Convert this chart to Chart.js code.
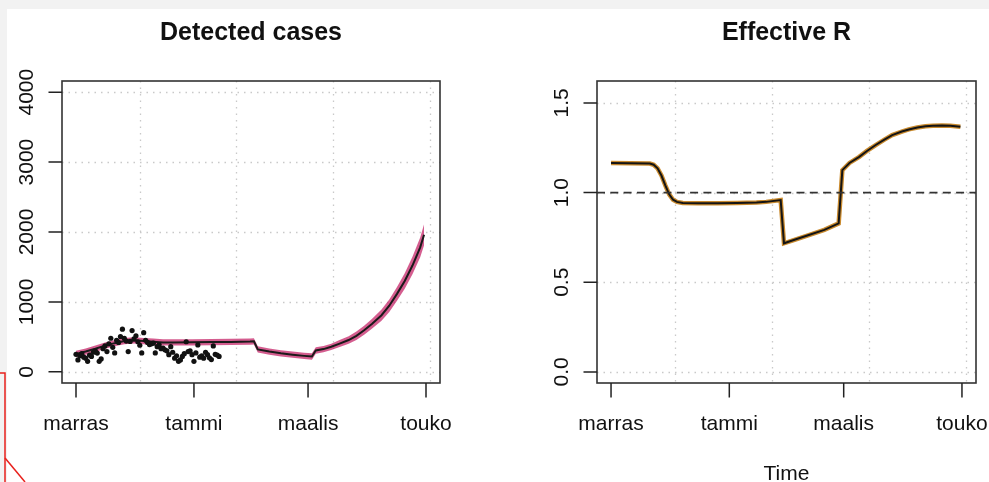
<!DOCTYPE html>
<html>
<head>
<meta charset="utf-8">
<script src="https://cdn.jsdelivr.net/npm/chart.js@4"></script>
<style>
  html, body { margin: 0; padding: 0; }
  body { width: 989px; height: 482px; background: #f2f2f2; position: relative; overflow: hidden; }
  #sheet { position: absolute; left: 7px; top: 9px; width: 982px; height: 473px; background: #fff; }
  canvas { position: absolute; top: 0; }
  #casesChart { left: 0; }
  #rChart { left: 494px; }
  #mark { position: absolute; left: 0; top: 0; }
</style>
</head>
<body>
<div id="sheet"></div>
<canvas id="casesChart" width="494" height="482"></canvas>
<canvas id="rChart" width="495" height="482"></canvas>
<svg id="mark" width="989" height="482">
  <polyline points="0,373 5,373 5,482" fill="none" stroke="#e8201c" stroke-width="1.5"/>
  <line x1="5" y1="458" x2="25" y2="482" stroke="#e8201c" stroke-width="1.5"/>
</svg>
<script>
// -------- DATA --------
// x values are days counted from 1 Nov (marras)
const monthDays = [0, 61, 120, 181];
const monthLabels = ["marras", "tammi", "maalis", "touko"];
const gridDays = [33, 83, 133, 183];

const caseTicks = [0, 1000, 2000, 3000, 4000];
const rTicks = [0, 0.5, 1.0, 1.5];
const rTickLabels = ["0.0", "0.5", "1.0", "1.5"];

// observed daily cases, one per day from day 0
const obsCases = [250, 170, 230, 260, 210, 195, 150, 240, 220, 280,
                  300, 268, 150, 185, 330, 370, 290, 400, 480, 350,
                  270, 450, 420, 505, 610, 480, 440, 290, 435, 590,
                  470, 515, 430, 380, 270, 560, 450, 420, 390, 400,
                  410, 270, 360, 385, 330, 340, 315, 300, 245, 360,
                  280, 195, 230, 150, 170, 220, 260, 430, 290, 300,
                  245, 150, 270, 385, 210, 230, 195, 280, 245, 200,
                  175, 370, 250, 240, 220];

// model fit: median and band
const modelDays = [0, 5, 10, 15, 20, 25, 30, 35, 40, 45, 50, 60, 70, 80, 90, 92, 94, 100, 106, 112,
                   118, 122, 124, 128, 132, 136, 141, 145, 149, 153, 158, 162, 166, 170, 174, 178, 180];
const caseMedian = [255, 290, 330, 375, 410, 440, 450, 440, 430, 420, 420, 422, 425, 428, 432, 435, 320, 290, 265, 245,
                    228, 219, 305, 325, 358, 400, 455, 515, 595, 685, 810, 945, 1115, 1300, 1520, 1780, 1960];
const caseLow = [210, 245, 285, 330, 365, 395, 405, 395, 385, 375, 375, 377, 380, 383, 387, 390, 275, 245, 220, 200,
                 183, 174, 260, 280, 313, 350, 400, 455, 530, 615, 730, 855, 1015, 1190, 1395, 1640, 1810];
const caseHigh = [300, 335, 375, 420, 455, 485, 495, 485, 475, 465, 465, 467, 470, 473, 477, 480, 365, 335, 310, 290,
                  273, 264, 350, 370, 403, 450, 510, 575, 660, 755, 890, 1035, 1215, 1410, 1645, 1920, 2110];

// effective R
const rDays = [0, 10, 20, 22, 24, 26, 28, 30, 32, 34, 37, 45, 55, 65, 75, 80, 87.5, 89.2, 95, 102,
               110, 117.4, 119.3, 123, 128, 132, 136.5, 141, 145, 150, 153.6, 158, 162.2, 166, 170.7, 175, 180.2];
const rValues = [1.165, 1.164, 1.162, 1.155, 1.135, 1.095, 1.040, 0.990, 0.960, 0.948, 0.942, 0.941, 0.941, 0.942, 0.945, 0.948, 0.958, 0.717, 0.738, 0.763,
                 0.792, 0.828, 1.125, 1.165, 1.199, 1.232, 1.265, 1.295, 1.320, 1.340, 1.352, 1.363, 1.370, 1.373, 1.374, 1.372, 1.367];

const FONT = '"Liberation Sans", Arial, sans-serif';

const pts = (xs, ys) => xs.map((x, i) => ({ x: x, y: ys[i] }));

// -------- R-like axes plugin --------
const rBase = {
    id: "rBase",
    beforeDatasetsDraw(chart, args, opts) {
        const { ctx, chartArea: a, scales: { x, y } } = chart;
        ctx.save();
        ctx.strokeStyle = "#c9c9c9";
        ctx.lineWidth = 1.3;
        ctx.setLineDash([1.5, 5]);
        ctx.beginPath();
        gridDays.forEach(d => {
            const px = Math.round(x.getPixelForValue(d)) + 0.5;
            ctx.moveTo(px, a.top);
            ctx.lineTo(px, a.bottom);
        });
        opts.yTicks.forEach(v => {
            const py = Math.round(y.getPixelForValue(v)) + 0.5;
            ctx.moveTo(a.left, py);
            ctx.lineTo(a.right, py);
        });
        ctx.stroke();
        ctx.restore();
    },
    afterDatasetsDraw(chart, args, opts) {
        if (opts.refLine === undefined) return;
        const { ctx, chartArea: a, scales: { y } } = chart;
        const py = y.getPixelForValue(opts.refLine);
        ctx.save();
        ctx.strokeStyle = "#333";
        ctx.lineWidth = 1.8;
        ctx.setLineDash([8, 5.3]);
        ctx.beginPath();
        ctx.moveTo(a.left, py);
        ctx.lineTo(a.right, py);
        ctx.stroke();
        ctx.restore();
    },
    afterDraw(chart, args, opts) {
        const { ctx, chartArea: a, scales: { x, y } } = chart;
        ctx.save();
        // box
        ctx.strokeStyle = "#333";
        ctx.lineWidth = 1.6;
        ctx.strokeRect(a.left, a.top, a.right - a.left, a.bottom - a.top);

        // ticks
        ctx.strokeStyle = "#222";
        ctx.lineWidth = 1.5;
        ctx.beginPath();
        monthDays.forEach(d => {
            const px = x.getPixelForValue(d);
            ctx.moveTo(px, a.bottom);
            ctx.lineTo(px, a.bottom + 14.5);
        });
        opts.yTicks.forEach(v => {
            const py = y.getPixelForValue(v);
            ctx.moveTo(a.left, py);
            ctx.lineTo(a.left - 13.5, py);
        });
        ctx.stroke();

        // labels
        ctx.fillStyle = "#111";
        ctx.font = "21px " + FONT;
        ctx.textAlign = "center";
        ctx.textBaseline = "alphabetic";
        monthDays.forEach((d, i) => {
            ctx.fillText(monthLabels[i], x.getPixelForValue(d), 430);
        });
        opts.yTicks.forEach((v, i) => {
            ctx.save();
            ctx.translate(a.left - 29, y.getPixelForValue(v));
            ctx.rotate(-Math.PI / 2);
            ctx.fillText(opts.yLabels[i], 0, 0);
            ctx.restore();
        });
        if (opts.xlab) {
            ctx.fillText(opts.xlab, (a.left + a.right) / 2, 480);
        }

        // title
        ctx.font = "bold 25px " + FONT;
        ctx.fillText(opts.title, (a.left + a.right) / 2, 39.5);
        ctx.restore();
    }
};

const baseOptions = (padding, yMin, yMax, extra) => ({
    responsive: false,
    animation: false,
    devicePixelRatio: 1,
    layout: { padding: padding },
    scales: {
        x: { type: "linear", min: -7.24, max: 188.24, display: false },
        y: { type: "linear", min: yMin, max: yMax, display: false }
    },
    plugins: Object.assign({
        legend: { display: false },
        tooltip: { enabled: false }
    }, extra)
});

// -------- DETECTED CASES --------
// higher "order" is drawn first (underneath)
new Chart(document.getElementById("casesChart"), {
    type: "line",
    data: {
        datasets: [
            {
                data: pts(modelDays, caseLow),
                borderWidth: 0,
                pointRadius: 0,
                fill: false,
                order: 3
            },
            {
                data: pts(modelDays, caseHigh),
                borderWidth: 0,
                pointRadius: 0,
                backgroundColor: "rgba(196, 30, 100, 0.72)",
                fill: "-1",
                order: 2
            },
            {
                data: pts(modelDays, caseMedian),
                borderColor: "#1a1a1a",
                borderWidth: 2,
                pointRadius: 0,
                fill: false,
                order: 1
            },
            {
                data: obsCases.map((v, i) => ({ x: i, y: v })),
                showLine: false,
                pointRadius: 2.6,
                pointBorderWidth: 0,
                pointBackgroundColor: "#111",
                fill: false,
                order: 0
            }
        ]
    },
    options: baseOptions({ left: 62, right: 54, top: 81, bottom: 99 }, -160, 4160, {
        rBase: {
            title: "Detected cases",
            yTicks: caseTicks,
            yLabels: caseTicks.map(String)
        }
    }),
    plugins: [rBase]
});

// -------- EFFECTIVE R --------
new Chart(document.getElementById("rChart"), {
    type: "line",
    data: {
        datasets: [
            {
                data: pts(rDays, rValues),
                borderColor: "#c98a2e",
                borderWidth: 4.5,
                pointRadius: 0,
                fill: false,
                order: 1
            },
            {
                data: pts(rDays, rValues),
                borderColor: "#141414",
                borderWidth: 2,
                pointRadius: 0,
                fill: false,
                order: 0
            }
        ]
    },
    options: baseOptions({ left: 103, right: 13, top: 81, bottom: 99 }, -0.062, 1.622, {
        rBase: {
            title: "Effective R",
            yTicks: rTicks,
            yLabels: rTickLabels,
            xlab: "Time",
            refLine: 1
        }
    }),
    plugins: [rBase]
});
</script>
</body>
</html>
